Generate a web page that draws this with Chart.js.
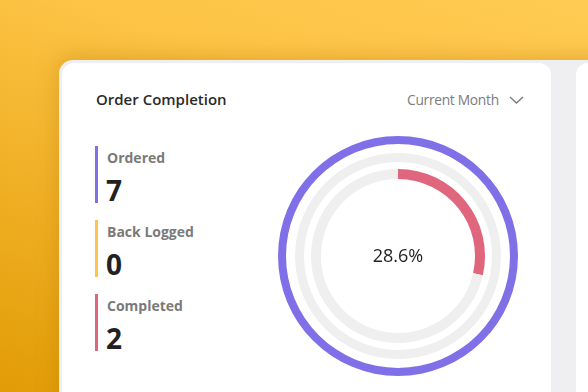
<!DOCTYPE html>
<html>
<head>
<meta charset="utf-8">
<script src="https://cdn.jsdelivr.net/npm/chart.js@4.4.0/dist/chart.umd.min.js"></script>
<style>
  html, body {
    margin: 0;
    padding: 0;
  }
  body {
    width: 588px;
    height: 392px;
    overflow: hidden;
    position: relative;
    font-family: "Open Sans", "Noto Sans", sans-serif;
    background: linear-gradient(200deg, #ffcb52 0%, #fdc446 30%, #f0b025 65%, #e19c06 100%);
  }
  .frame {
    position: absolute;
    left: 59px;
    top: 60px;
    width: 600px;
    height: 400px;
    background: #efeff1;
    border-radius: 14px;
    box-shadow: 0 -2px 22px rgba(170, 110, 0, 0.35);
  }
  .card {
    position: absolute;
    top: 63px;
    height: 400px;
    background: #fff;
    border-radius: 12px;
  }
  #card1 { left: 62px; width: 489px; }
  #card2 { left: 576px; width: 60px; }
  .title {
    position: absolute;
    left: 96px;
    top: 89px;
    font-size: 15px;
    font-weight: 600;
    color: #2a2a2a;
  }
  .period {
    position: absolute;
    left: 407px;
    top: 90px;
    font-size: 13.8px;
    letter-spacing: -0.3px;
    color: #7c7c7c;
  }
  .chev {
    position: absolute;
    left: 509px;
    top: 95px;
  }
  .item {
    position: absolute;
    left: 95px;
    width: 150px;
    height: 57px;
  }
  .item .bar {
    position: absolute;
    left: 0;
    top: 0;
    width: 3px;
    height: 57px;
  }
  .item .lbl {
    position: absolute;
    left: 12px;
    top: 2px;
    font-size: 14px;
    font-weight: 700;
    color: #7a7a7a;
  }
  .item .num {
    position: absolute;
    left: 11px;
    top: 25px;
    font-size: 28px;
    font-weight: 700;
    color: #222;
  }
  #chartBox {
    position: absolute;
    left: 278px;
    top: 136px;
    width: 240px;
    height: 240px;
  }
</style>
</head>
<body>
<div class="frame"></div>
<div class="card" id="card1"></div>
<div class="card" id="card2"></div>

<div class="title">Order Completion</div>
<div class="period">Current Month</div>
<svg class="chev" width="15" height="10" viewBox="0 0 15 10">
  <polyline points="1,2 7.5,8 14,2" fill="none" stroke="#7c7c7c" stroke-width="1.4"/>
</svg>

<div id="legend"></div>

<div id="chartBox"><canvas id="chart"></canvas></div>

<script>
const categories = ["Ordered", "Back Logged", "Completed"];
const values = [7, 0, 2];
const colors = ["#8070e8", "#fdc34a", "#e0667e"];
const trackColor = "#efefef";

const total = values[0];
const pct = (values[2] / total * 100).toFixed(1) + "%";

// legend on the left
const legend = document.getElementById("legend");
categories.forEach((c, i) => {
  const div = document.createElement("div");
  div.className = "item";
  div.style.top = (146 + i * 74) + "px";
  div.innerHTML = `
    <div class="bar" style="background:${colors[i]}"></div>
    <div class="lbl">${c}</div>
    <div class="num">${values[i]}</div>
  `;
  legend.appendChild(div);
});

// ring thickness and gaps between rings
const ringWeights = [8, 9, 10];
const gapWeights = [9, 7];

const datasets = [];
categories.forEach((c, i) => {
  datasets.push({
    label: c,
    data: [values[i], total - values[i]],
    backgroundColor: [colors[i], trackColor],
    borderWidth: 0,
    weight: ringWeights[i],
  });
  if (i < gapWeights.length) {
    datasets.push({
      label: "gap",
      data: [1],
      backgroundColor: ["rgba(0,0,0,0)"],
      borderWidth: 0,
      weight: gapWeights[i],
    });
  }
});

const centerText = {
  id: "centerText",
  afterDraw(chart) {
    const { ctx, chartArea } = chart;
    const x = (chartArea.left + chartArea.right) / 2;
    const y = (chartArea.top + chartArea.bottom) / 2;
    ctx.save();
    ctx.font = "500 18px 'Open Sans'";
    ctx.fillStyle = "#1f1f1f";
    ctx.textAlign = "center";
    ctx.textBaseline = "middle";
    ctx.fillText(pct, x, y + 1);
    ctx.restore();
  },
};

const ctx = document.getElementById("chart").getContext("2d");
new Chart(ctx, {
  type: "doughnut",
  data: {
    labels: ["value", "rest"],
    datasets: datasets,
  },
  options: {
    responsive: true,
    maintainAspectRatio: false,
    animation: false,
    cutout: (77 / 120 * 100) + "%",
    plugins: {
      legend: { display: false },
      tooltip: { enabled: false },
    },
  },
  plugins: [centerText],
});
</script>
</body>
</html>
